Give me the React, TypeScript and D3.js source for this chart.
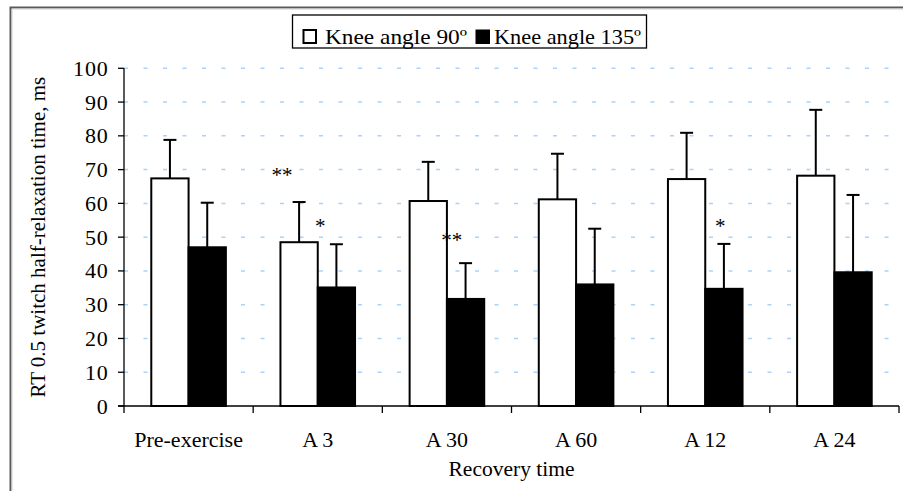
import React from "react";
import * as d3 from "d3";

const categories = ["Pre-exercise", "A 3", "A 30", "A 60", "A 12", "A 24"];
const series = ["Knee angle 90º", "Knee angle 135º"];
const knee90 = [67.4, 48.5, 60.7, 61.2, 67.2, 68.2];
const knee90Sd = [11.4, 11.9, 11.6, 13.5, 13.7, 19.5];
const knee135 = [47.0, 35.1, 31.7, 36.0, 34.7, 39.6];
const knee135Sd = [13.2, 12.8, 10.6, 16.5, 13.3, 22.9];
const yTicks = [0, 10, 20, 30, 40, 50, 60, 70, 80, 90, 100];
const starCats = ["A 3", "A 3", "A 30", "A 12"];
const starLabels = ["**", "*", "**", "*"];
const starValues = [69.6, 54.6, 50.4, 54.5];
const starShift = [-0.96, 0.07, 0.13, 0.4]; // in bar widths from category centre

const W = 903;
const H = 491;
const FONT = "'Liberation Serif', 'Times New Roman', serif";

export default function App() {
  const left = 124;
  const right = 899;
  const top = 68.3;
  const bottom = 406;
  const y = d3.scaleLinear().domain([0, 100]).range([bottom, top]);
  const x0 = d3.scaleBand<string>().domain(categories).range([left, right]).padding(0);
  const groupW = 74.6;
  const x1 = d3.scaleBand<string>().domain(series).range([0, groupW]).padding(0);
  const off = (x0.bandwidth() - groupW) / 2;
  const bw = x1.bandwidth();
  const vals = [knee90, knee135];
  const sds = [knee90Sd, knee135Sd];
  const fills = ["#ffffff", "#000000"];

  return (
    <div style={{ position: "fixed", left: 0, top: 0, width: W, height: H, background: "#fff" }}>
      <svg width={W} height={H} style={{ display: "block" }} fontFamily={FONT}>
        <rect x={0} y={0} width={W} height={H} fill="#fff" />
        {/* outer frame */}
        <path d={`M10.5,${H} L10.5,7.5 L${W},7.5`} fill="none" stroke="#5a5a5a" strokeWidth={2} />
        <path d={`M12,${H} L12,9 L${W},9`} fill="none" stroke="#cfcfcf" strokeWidth={1} />

        {/* gridlines */}
        {yTicks.filter((t) => t > 0).map((t) => (
          <line key={"g" + t} x1={left} x2={right} y1={y(t)} y2={y(t)} stroke="#a9d3fb" strokeWidth={1.5} strokeDasharray="4 15.5" />
        ))}

        {/* y axis */}
        <line x1={left} x2={left} y1={top} y2={bottom} stroke="#000" strokeWidth={1.3} />
        {yTicks.map((t) => (
          <g key={"yt" + t}>
            <line x1={left - 6} x2={left} y1={y(t)} y2={y(t)} stroke="#000" strokeWidth={1.3} />
            <text x={108.5} y={y(t) + 7.5} fontSize={22} letterSpacing={0.8} textAnchor="end" fill="#000">{t}</text>
          </g>
        ))}
        <text transform={`translate(45,${(top + bottom) / 2}) rotate(-90)`} fontSize={21} textAnchor="middle" fill="#000">
          RT 0.5  twitch half-relaxation time, ms
        </text>

        {/* bars */}
        {categories.map((c, i) => (
          <g key={"c" + c}>
            {series.map((s, j) => {
              const bx = (x0(c) as number) + off + (x1(s) as number);
              const by = y(vals[j][i]);
              const ey = y(vals[j][i] + sds[j][i]);
              const cx = bx + bw / 2;
              return (
                <g key={s}>
                  <line x1={cx} x2={cx} y1={by} y2={ey} stroke="#000" strokeWidth={2} />
                  <line x1={cx - 6.5} x2={cx + 6.5} y1={ey} y2={ey} stroke="#000" strokeWidth={2} />
                  <rect x={bx} y={by} width={bw} height={bottom - by} fill={fills[j]} stroke="#000" strokeWidth={2} />
                </g>
              );
            })}
          </g>
        ))}

        {/* x axis */}
        <line x1={left - 6} x2={right} y1={bottom} y2={bottom} stroke="#000" strokeWidth={1.3} />
        {[...categories.map((c) => x0(c) as number), right].map((tx, i) => (
          <line key={"xt" + i} x1={tx} x2={tx} y1={bottom} y2={bottom + 7} stroke="#000" strokeWidth={1.3} />
        ))}
        {categories.map((c) => (
          <text key={"xl" + c} x={(x0(c) as number) + x0.bandwidth() / 2} y={447} fontSize={22} textAnchor="middle" fill="#000">{c}</text>
        ))}
        <text x={(left + right) / 2} y={476} fontSize={21.5} textAnchor="middle" fill="#000">Recovery time</text>

        {/* significance stars */}
        {starLabels.map((lab, k) => (
          <text key={"s" + k} x={(x0(starCats[k]) as number) + x0.bandwidth() / 2 + starShift[k] * bw} y={y(starValues[k]) + 11} fontSize={21} textAnchor="middle" fill="#000">{lab}</text>
        ))}

        {/* legend */}
        <rect x={292.5} y={15} width={354} height={33} fill="#fff" stroke="#000" strokeWidth={1.3} />
        <rect x={303.5} y={30} width={12.5} height={13} fill="#fff" stroke="#000" strokeWidth={2} />
        <text x={325} y={43.5} fontSize={22} textLength={142} lengthAdjust="spacingAndGlyphs" fill="#000">{series[0]}</text>
        <rect x={476} y={30} width={13.5} height={13.5} fill="#000" stroke="#000" strokeWidth={1} />
        <text x={494} y={43.5} fontSize={22} textLength={147} lengthAdjust="spacingAndGlyphs" fill="#000">{series[1]}</text>
      </svg>
    </div>
  );
}
